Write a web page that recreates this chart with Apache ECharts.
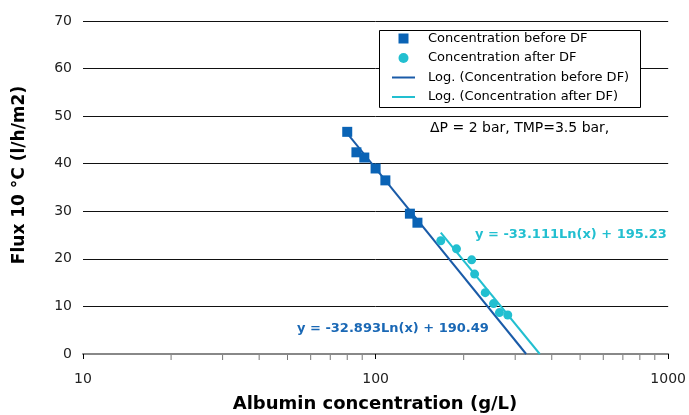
<!DOCTYPE html>
<html>
<head>
<meta charset="utf-8">
<script src="https://cdn.jsdelivr.net/npm/echarts@6/dist/echarts.min.js"></script>
<style>
  html, body { margin: 0; padding: 0; background: #fff; }
  #mainChart { width: 689px; height: 415px; }
</style>
</head>
<body>
<div id="mainChart"></div>
<script>
// data
var beforeX = [80, 86, 91.5, 100, 108, 131, 139];
var beforeY = [46.7, 42.4, 41.3, 39.0, 36.5, 29.5, 27.6];
var afterX = [167, 189, 213, 218, 237, 253, 265, 283];
var afterY = [23.8, 22.1, 19.8, 16.8, 12.9, 10.6, 8.7, 8.2];
// trend line end points (Excel log fits)
var trendBeforeX = [80, 327];
var trendBeforeY = [46.4, 0];
var trendAfterX = [167, 364];
var trendAfterY = [25.5, 0];
var minorTickValues = [20, 30, 40, 50, 60, 70, 80, 90, 200, 300, 400, 500, 600, 700, 800, 900];

function pairs(xs, ys) {
    var out = [];
    for (var i = 0; i < xs.length; i++) {
        out.push([xs[i], ys[i]]);
    }
    return out;
}

var FONT = "DejaVu Sans";
var myChart = echarts.init(document.getElementById("mainChart"));

var option = {
    animation: false,
    grid: { left: 83, right: 18, top: 21, bottom: 61 },
    xAxis: {
        type: "log",
        logBase: 10,
        min: 10,
        max: 1000,
        axisLine: { lineStyle: { color: "#888", width: 2 } },
        axisTick: { length: 5, lineStyle: { color: "#000" } },
        axisLabel: {
            margin: 18, color: "#222", fontFamily: FONT, fontSize: 14,
            formatter: function (v) { return String(Math.round(v)); }
        },
        splitLine: { show: false }
    },
    yAxis: {
        type: "value",
        min: 0,
        max: 70,
        interval: 10,
        axisLine: { show: false },
        axisTick: { show: false },
        axisLabel: { margin: 11, color: "#222", fontFamily: FONT, fontSize: 14 },
        splitLine: { lineStyle: { color: "#111", width: 1 } }
    },
    legend: {
        orient: "vertical",
        left: 392,
        top: 32,
        padding: 0,
        itemWidth: 23,
        itemHeight: 10,
        itemGap: 6.5,
        z: 5,
        textStyle: { fontFamily: FONT, fontSize: 13, color: "#000", lineHeight: 13, padding: [0, 0, 0, 8] },
        data: [
            { name: "Concentration before DF", icon: "path://M0,0h10v10h-10z" },
            { name: "Concentration after DF", icon: "circle" },
            { name: "Log. (Concentration before DF)", icon: "path://M0,0h23v2h-23z" },
            { name: "Log. (Concentration after DF)", icon: "path://M0,0h23v2h-23z" }
        ]
    },
    graphic: [
        {
            type: "rect",
            z: 3,
            shape: { x: 379.5, y: 30.5, width: 261, height: 77 },
            style: { fill: "#fff", stroke: "#000", lineWidth: 1 }
        },
        {
            type: "text",
            left: 430,
            top: 121,
            style: { text: "\u0394P = 2 bar, TMP=3.5 bar,", font: "14px DejaVu Sans", fill: "#000" }
        },
        {
            type: "text",
            left: 475,
            top: 228,
            style: { text: "y = -33.111Ln(x) + 195.23", font: "bold 13px DejaVu Sans", fill: "#22BFD0" }
        },
        {
            type: "text",
            left: 297,
            top: 322,
            style: { text: "y = -32.893Ln(x) + 190.49", font: "bold 13px DejaVu Sans", fill: "#1A68B5" }
        },
        {
            type: "text",
            x: 375,
            y: 404,
            style: { text: "Albumin concentration (g/L)", font: "bold 18px DejaVu Sans", fill: "#000", align: "center", verticalAlign: "middle" }
        },
        {
            type: "text",
            x: 20,
            y: 175,
            rotation: Math.PI / 2,
            style: { text: "Flux 10 \u00B0C (l/h/m2)", font: "bold 17px DejaVu Sans", fill: "#000", align: "center", verticalAlign: "middle" }
        }
    ],
    series: [
        {
            name: "Log. (Concentration before DF)",
            type: "line",
            data: pairs(trendBeforeX, trendBeforeY),
            symbol: "none",
            lineStyle: { color: "#1A5BA8", width: 2 },
            itemStyle: { color: "#1A5BA8" },
            z: 2
        },
        {
            name: "Log. (Concentration after DF)",
            type: "line",
            data: pairs(trendAfterX, trendAfterY),
            symbol: "none",
            lineStyle: { color: "#22BFD0", width: 2 },
            itemStyle: { color: "#22BFD0" },
            z: 2
        },
        {
            name: "Concentration before DF",
            type: "scatter",
            data: pairs(beforeX, beforeY),
            symbol: "rect",
            symbolSize: 10,
            itemStyle: { color: "#0A63B5", opacity: 1 },
            z: 3
        },
        {
            name: "Concentration after DF",
            type: "scatter",
            data: pairs(afterX, afterY),
            symbol: "circle",
            symbolSize: 9,
            itemStyle: { color: "#22BFD0", opacity: 1 },
            z: 3
        },
        {
            name: "minor ticks",
            type: "custom",
            silent: true,
            clip: false,
            data: minorTickValues.map(function (v) { return [v, 0]; }),
            renderItem: function (params, api) {
                var p = api.coord([api.value(0), 0]);
                return {
                    type: "line",
                    shape: { x1: p[0], y1: p[1] + 1, x2: p[0], y2: p[1] + 6 },
                    style: { stroke: "#777", lineWidth: 1 }
                };
            }
        }
    ]
};

myChart.setOption(option);
</script>
</body>
</html>
